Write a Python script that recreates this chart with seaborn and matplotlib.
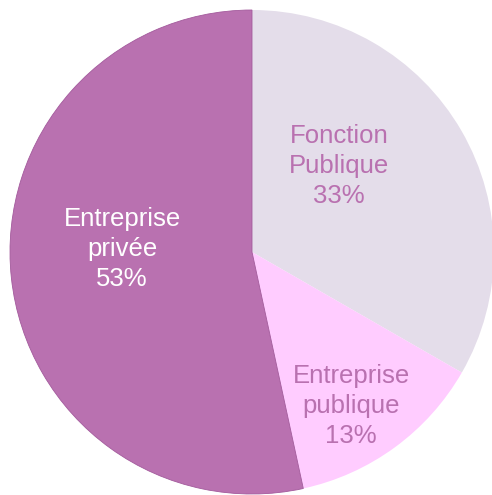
import matplotlib
matplotlib.use("Agg")
import matplotlib.pyplot as plt
import seaborn as sns

labels = ["Fonction\nPublique", "Entreprise\npublique", "Entreprise\nprivée"]
values = [33.3, 13.3, 53.4]
colors = ["#E4DDEA", "#FFCCFF", "#B971B0"]
text_colors = ["#B971B0", "#B971B0", "white"]
label_pos = [(0.36, 0.355), (0.41, -0.636), (-0.537, 0.012)]

sns.set_style("white")
plt.rcParams["font.family"] = ["Liberation Sans", "DejaVu Sans"]

fig = plt.figure(figsize=(4.92, 4.95), dpi=100)
ax = fig.add_axes([10 / 492, 1 / 495, 484 / 492, 484 / 495])

wedges, _ = ax.pie(values, colors=colors, startangle=90, counterclock=False,
                   radius=1.0, wedgeprops={"linewidth": 0})
# thin darker edge on the private wedge
wedges[2].set_edgecolor("#A35A9C")
wedges[2].set_linewidth(0.6)

for lab, v, c, (x, y) in zip(labels, values, text_colors, label_pos):
    ax.text(x, y, f"{lab}\n{round(v)}%", ha="center", va="center",
            fontsize=18.5, color=c, linespacing=1.3)

ax.set_xlim(-1, 1)
ax.set_ylim(-1, 1)
ax.set_aspect("equal")
ax.axis("off")

fig.savefig("out.png", dpi=100)
